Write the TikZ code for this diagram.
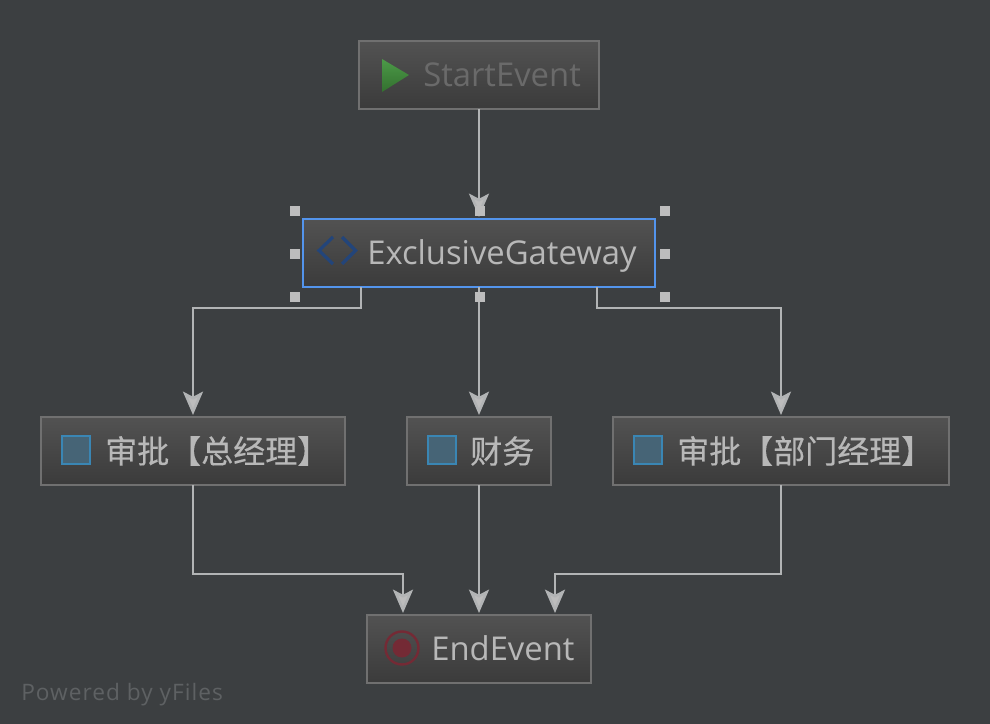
\documentclass[tikz,border=0pt]{standalone}
\usepackage{fontspec}
\setmainfont{Open Sans}
\newfontfamily\cjk[FakeBold=0.35]{Noto Sans CJK SC}
\newfontfamily\wmfont[LetterSpace=4.5]{Open Sans}
\usetikzlibrary{calc,arrows.meta,shapes.geometric}
\definecolor{bg}{HTML}{3C3F41}
\definecolor{edgec}{HTML}{B2B4B5}
\definecolor{boxline}{HTML}{707070}
\definecolor{txt}{HTML}{B8B8B8}
\definecolor{dimtxt}{HTML}{6A6A6A}
\definecolor{tasklight}{HTML}{3A86B4}
\definecolor{taskfill}{HTML}{466476}
\definecolor{boxtop}{HTML}{525252}
\definecolor{boxbot}{HTML}{3B3B3B}
\definecolor{selblue}{HTML}{5394EC}
\definecolor{handlec}{HTML}{BDBDBD}
\definecolor{greenA}{HTML}{4C9A48}
\definecolor{greenB}{HTML}{33702F}
\definecolor{gwblue}{HTML}{23457A}
\definecolor{endred}{HTML}{742A35}
\definecolor{wmark}{HTML}{5E6163}
\tikzset{
  x=0.75pt,y=-0.75pt,
  flow/.style={draw=edgec,line width=1.9pt,line join=miter,shorten >=1.5pt,-{Stealth[length=17.5pt,width=15pt,inset=3.8pt,fill=handlec]}},
  boxn/.style={rectangle,draw=boxline,line width=1.8pt,top color=boxtop,bottom color=boxbot,minimum height=51pt,inner sep=0pt,outer sep=0pt},
  selbox/.style={boxn,draw=selblue,line width=1.6pt},
  lab/.style={anchor=base west,inner sep=0pt,text=txt,font=\fontsize{24.6pt}{28pt}\selectfont},
  cjklab/.style={anchor=west,inner sep=0pt,text=txt,font=\cjk\fontsize{24pt}{27pt}\selectfont},
  handle/.style={rectangle,fill=handlec,minimum size=7.5pt,inner sep=0pt,outer sep=0pt},
  taskicon/.style={rectangle,draw=tasklight,fill=taskfill,line width=1.6pt,minimum size=21.5pt,inner sep=0pt},
}
\begin{document}
\begin{tikzpicture}
\useasboundingbox (0,0) rectangle (990,724);
\fill[bg] (0,0) rectangle (990,724);
% nodes
\node[boxn,minimum width=180pt] (start) at (479,75) {};
\node[selbox,minimum width=264pt] (gw) at (479,253) {};
\node[boxn,minimum width=228pt] (t1) at (193,451) {};
\node[boxn,minimum width=108pt] (t2) at (479,451) {};
\node[boxn,minimum width=252pt] (t3) at (781,451) {};
\node[boxn,minimum width=168pt] (end) at (479,649) {};
% icons
\path[top color=greenA,bottom color=greenB]
  (382,59) -- (409,75) -- (382,92) -- cycle;
\draw[draw=gwblue,line width=2.4pt] (333,237) -- (319,250.5) -- (333,264);
\draw[draw=gwblue,line width=2.4pt] (342,237) -- (355.5,250.5) -- (342,264);
\node[taskicon] (i1) at (76,450) {};
\node[taskicon] (i2) at (442,450) {};
\node[taskicon] (i3) at (648,450) {};
\draw[draw=endred,line width=1.8pt] (402,648) circle [radius=16.5*0.75pt];
\fill[endred] (402,648) circle [radius=9.5*0.75pt];
% labels
\node[lab,text=dimtxt] (l0) at (423,87) {StartEvent};
\node[lab] (l1) at (367,264.5) {ExclusiveGateway};
\node[cjklab] (l2) at (105,451) {审批【总经理】};
\node[cjklab] (l3) at (470,451) {财务};
\node[cjklab] (l4) at (677,451) {审批【部门经理】};
\node[lab] (l5) at (431,660.5) {EndEvent};
\node[anchor=base west,inner sep=0pt,text=wmark,font=\wmfont\fontsize{17pt}{20pt}\selectfont] (wm) at (21,700) {Powered by yFiles};
% connectors
\draw[flow] (start.south) -- (gw.north);
\draw[flow] ($(gw.south west)+(58,0)$) |- (193,308) -- (t1.north);
\draw[flow] (gw.south) -- (t2.north);
\draw[flow] ($(gw.south east)+(-58,0)$) |- (781,308) -- (t3.north);
\draw[flow] (t1.south) |- (403,574) -- ($(end.north)+(-76,0)$);
\draw[flow] (t2.south) -- (end.north);
\draw[flow] (t3.south) |- (555,574) -- ($(end.north)+(76,0)$);
% handles
\node[handle] (h1) at (295,211) {};
\node[handle] (h2) at (480,211) {};
\node[handle] (h3) at (665,211) {};
\node[handle] (h4) at (295,254) {};
\node[handle] (h5) at (665,254) {};
\node[handle] (h6) at (295,297) {};
\node[handle] (h7) at (480,297) {};
\node[handle] (h8) at (665,297) {};
\end{tikzpicture}
\end{document}
